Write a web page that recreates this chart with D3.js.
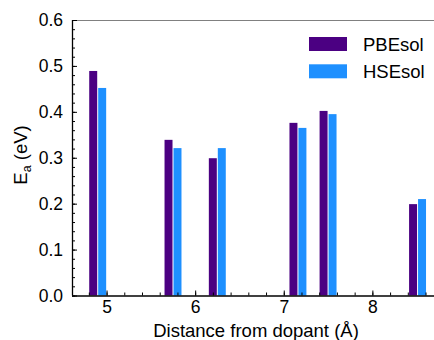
<!DOCTYPE html>
<html>
<head>
<meta charset="utf-8">
<script src="https://cdn.jsdelivr.net/npm/d3@7"></script>
<style>
  html, body { margin: 0; padding: 0; background: #fff; }
  svg text { font-family: "Liberation Sans", Arial, sans-serif; fill: #000; }
</style>
</head>
<body>
<svg id="chart" width="434" height="340"></svg>
<script>
// Data
var distances = [ 4.90, 5.75, 6.25, 7.16, 7.50, 8.51 ];
var pbesol    = [ 0.489, 0.339, 0.299, 0.376, 0.402, 0.199 ];
var hsesol    = [ 0.452, 0.321, 0.321, 0.365, 0.395, 0.210 ];
var seriesNames = [ 'PBEsol', 'HSEsol' ];
var xTicks = [ 5, 6, 7, 8 ];
var yTicks = [ 0, 0.1, 0.2, 0.3, 0.4, 0.5, 0.6 ];

var COLORS = { pbe: '#4b0082', hse: '#1e90ff', frame: '#808080' };

var svg = d3.select( '#chart' );
var M = { left: 72, right: 433.5, top: 20, bottom: 295.5 };

var x = d3.scaleLinear().domain( [ 4.61, 8.69 ] ).range( [ M.left, M.right ] );
var y = d3.scaleLinear().domain( [ 0, 0.6 ] ).range( [ M.bottom, M.top ] );

var barW = x( 0.09 ) - x( 0 );

// top frame line
svg.append( 'line' )
	.attr( 'x1', M.left ).attr( 'x2', 434 )
	.attr( 'y1', M.top + 0.5 ).attr( 'y2', M.top + 0.5 )
	.attr( 'stroke', COLORS.frame ).attr( 'stroke-width', 1.2 );

// bars
var rows = distances.map( function ( d, i ) { return { d: d, pbe: pbesol[ i ], hse: hsesol[ i ] }; } );

svg.selectAll( 'rect.pbe' )
	.data( rows )
	.join( 'rect' )
	.attr( 'class', 'pbe' )
	.attr( 'x', function ( r ) { return x( r.d ) - barW - 0.5; } )
	.attr( 'y', function ( r ) { return y( r.pbe ); } )
	.attr( 'width', barW )
	.attr( 'height', function ( r ) { return M.bottom - y( r.pbe ); } )
	.attr( 'fill', COLORS.pbe );

svg.selectAll( 'rect.hse' )
	.data( rows )
	.join( 'rect' )
	.attr( 'class', 'hse' )
	.attr( 'x', function ( r ) { return x( r.d ) + 0.5; } )
	.attr( 'y', function ( r ) { return y( r.hse ); } )
	.attr( 'width', barW )
	.attr( 'height', function ( r ) { return M.bottom - y( r.hse ); } )
	.attr( 'fill', COLORS.hse );

// y axis: minor ticks then major with labels (inward ticks)
var yMinor = d3.range( 0, 0.6001, 0.02 );
svg.append( 'g' )
	.attr( 'transform', 'translate(' + M.left + ',0)' )
	.call( d3.axisRight( y ).tickValues( yMinor ).tickSize( 3 ).tickFormat( '' ) )
	.call( function ( s ) { s.select( '.domain' ).remove(); } );

svg.append( 'g' )
	.attr( 'transform', 'translate(' + M.left + ',0)' )
	.call( d3.axisLeft( y ).tickValues( yTicks ).tickSize( -5 ).tickPadding( 9 ).tickFormat( d3.format( '.1f' ) ) )
	.call( function ( s ) {
		s.select( '.domain' ).attr( 'd', 'M0.5,' + M.top + 'V' + M.bottom ).attr( 'stroke', '#000' ).attr( 'stroke-width', 1.3 );
		s.selectAll( 'text' ).style( 'font-size', '17.5px' ).attr( 'font-family', null );
	} );

// x axis
var xMinor = d3.range( 4.8, 8.61, 0.2 );
svg.append( 'g' )
	.attr( 'transform', 'translate(0,' + M.bottom + ')' )
	.call( d3.axisTop( x ).tickValues( xMinor ).tickSize( 3 ).tickFormat( '' ) )
	.call( function ( s ) { s.select( '.domain' ).remove(); } );

svg.append( 'g' )
	.attr( 'transform', 'translate(0,' + M.bottom + ')' )
	.call( d3.axisBottom( x ).tickValues( xTicks ).tickSize( -5 ).tickPadding( 5 ).tickFormat( d3.format( 'd' ) ) )
	.call( function ( s ) {
		s.select( '.domain' ).attr( 'd', 'M' + M.left + ',0.5H434' ).attr( 'stroke', '#000' ).attr( 'stroke-width', 1.3 );
		s.selectAll( 'text' ).style( 'font-size', '17.5px' ).attr( 'font-family', null );
	} );

// axis titles
svg.append( 'text' )
	.attr( 'x', 256 ).attr( 'y', 337 )
	.attr( 'text-anchor', 'middle' )
	.style( 'font-size', '18.5px' )
	.text( 'Distance from dopant (Å)' );

var yt = svg.append( 'text' )
	.attr( 'transform', 'translate(27,155) rotate(-90)' )
	.attr( 'text-anchor', 'middle' )
	.style( 'font-size', '18.5px' );
yt.append( 'tspan' ).text( 'E' );
yt.append( 'tspan' ).attr( 'dy', 4 ).style( 'font-size', '12.5px' ).text( 'a' );
yt.append( 'tspan' ).attr( 'dy', -4 ).text( ' (eV)' );

// legend
var legend = svg.append( 'g' ).attr( 'transform', 'translate(309,37)' );
var items = [ { label: seriesNames[ 0 ], color: COLORS.pbe }, { label: seriesNames[ 1 ], color: COLORS.hse } ];
var lg = legend.selectAll( 'g' ).data( items ).join( 'g' )
	.attr( 'transform', function ( d, i ) { return 'translate(0,' + ( i * 27.3 ) + ')'; } );
lg.append( 'rect' ).attr( 'width', 38 ).attr( 'height', 14 ).attr( 'fill', function ( d ) { return d.color; } );
lg.append( 'text' )
	.attr( 'x', 54 ).attr( 'y', 13.8 )
	.style( 'font-size', '18.5px' )
	.text( function ( d ) { return d.label; } );
</script>
</body>
</html>
